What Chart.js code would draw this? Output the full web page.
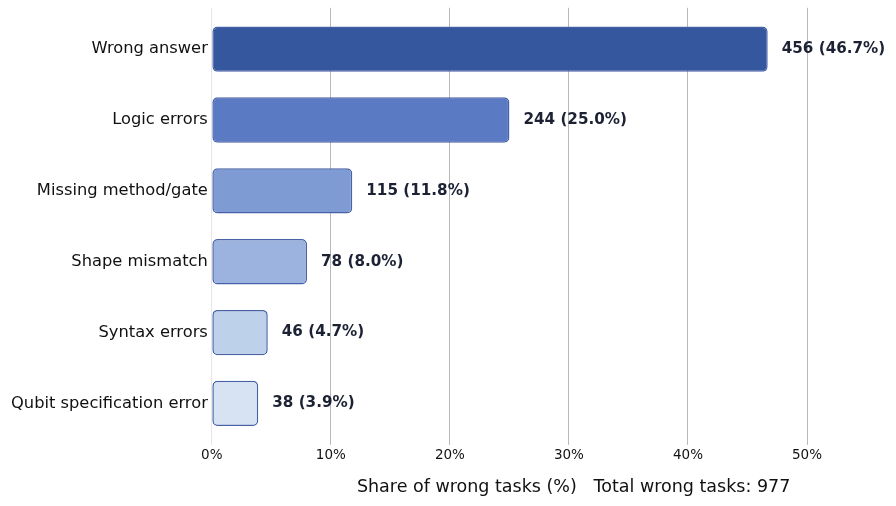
<!DOCTYPE html>
<html>
<head>
<meta charset="utf-8">
<script src="https://cdn.jsdelivr.net/npm/chart.js@4.4.1/dist/chart.umd.min.js"></script>
<style>
  html, body { margin: 0; padding: 0; background: #fff; }
  #wrap { width: 896px; height: 506px; }
</style>
</head>
<body>
<div id="wrap"><canvas id="grafico"></canvas></div>
<script>
// datos
const categorias = ['Wrong answer', 'Logic errors', 'Missing method/gate', 'Shape mismatch', 'Syntax errors', 'Qubit specification error'];
const conteos = [456, 244, 115, 78, 46, 38];
const porcentajes = [46.7, 25.0, 11.8, 8.0, 4.7, 3.9];
const totalErrores = 977;
const colores = ['#34579e', '#5a7bc4', '#7f9bd4', '#9db3df', '#bed1ea', '#d7e2f3'];

Chart.defaults.font.family = '"DejaVu Sans", sans-serif';
Chart.defaults.color = '#111';

// etiquetas al final de cada barra
const etiquetasBarras = {
  id: 'etiquetasBarras',
  afterDatasetsDraw(chart) {
    const ctx = chart.ctx;
    const meta = chart.getDatasetMeta(0);
    ctx.save();
    ctx.font = 'bold 15.2px "DejaVu Sans", sans-serif';
    ctx.fillStyle = '#1c2233';
    ctx.textAlign = 'left';
    ctx.textBaseline = 'middle';
    meta.data.forEach((bar, i) => {
      ctx.fillText(conteos[i] + ' (' + porcentajes[i].toFixed(1) + '%)', bar.x + 14, bar.y);
    });
    ctx.restore();
  }
};

new Chart(document.getElementById('grafico'), {
  type: 'bar',
  data: {
    labels: categorias,
    datasets: [{
      data: porcentajes,
      backgroundColor: colores,
      borderColor: '#4862a8',
      borderWidth: 1.5,
      borderRadius: 5,
      borderSkipped: false,
      categoryPercentage: 1,
      barPercentage: 0.64
    }]
  },
  options: {
    indexAxis: 'y',
    responsive: true,
    maintainAspectRatio: false,
    animation: false,
    layout: { padding: { top: 5, right: 89, bottom: 8, left: 7 } },
    plugins: {
      legend: { display: false },
      tooltip: { enabled: false }
    },
    scales: {
      x: {
        min: 0,
        max: 50,
        ticks: {
          stepSize: 10,
          font: { size: 13.5 },
          padding: 3,
          callback: v => v + '%'
        },
        grid: {
          color: ctx => ctx.index === 0 ? '#e6e6e6' : '#b8b8b8',
          lineWidth: 1,
          tickLength: 6
        },
        border: { display: false },
        title: {
          display: true,
          text: 'Share of wrong tasks (%)   Total wrong tasks: ' + totalErrores + '   ',
          align: 'end',
          font: { size: 17.5 },
          color: '#111',
          padding: { top: 10, bottom: 0 }
        }
      },
      x2: {
        position: 'top',
        min: 0,
        max: 50,
        ticks: { stepSize: 10, display: false },
        grid: {
          drawOnChartArea: false,
          color: ctx => ctx.index === 0 ? '#e6e6e6' : '#b8b8b8',
          tickLength: 6
        },
        border: { display: false }
      },
      y: {
        grid: { display: false, drawTicks: false },
        border: { display: false },
        ticks: { font: { size: 16.3 }, color: '#111', padding: 4 }
      }
    }
  },
  plugins: [etiquetasBarras]
});
</script>
</body>
</html>
